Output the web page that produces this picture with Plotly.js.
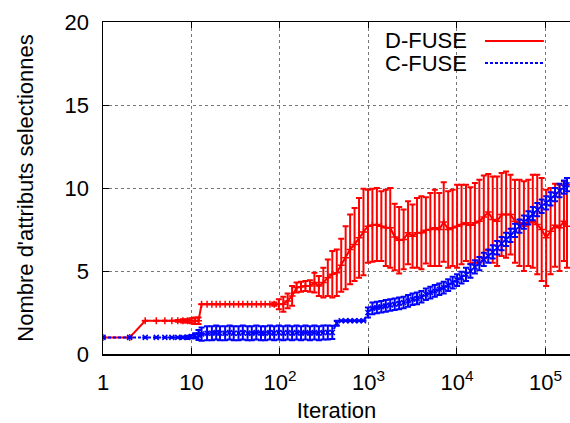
<!DOCTYPE html>
<html>
<head>
<meta charset="utf-8">
<script src="https://cdn.plot.ly/plotly-3.0.1.min.js"></script>
<style>html,body{margin:0;padding:0;background:#fff;}#chart{width:570px;height:423px;}</style>
</head>
<body>
<div id="chart"></div>
<script>
// Iteration values (x)
var iterations = [1,2,3,4,5,6,7,8,9,10,11,12,13,15,17,19,21,24,27,30,34,38,43,48,54,61,68,77,86,97,
  109,122,137,154,173,194,218,245,275,309,347,390,438,492,552,620,696,782,878,
  986,1107,1244,1397,1568,1761,1978,2221,2494,2800,3145,3531,3965,4452,5000,5614,6304,7079,7949,8926,
  10023,11254,12637,14190,15933,17891,20089,22557,25329,28441,31936,35860,40266,45213,50768,57005,64008,71872,80702,90617,
  101750,114251,128287,144048,161745,175000];

// D-FUSE mean and error
var dfuseMean = [1,1,2,2,2,2,2,2,2,2,2,2,3,3,3,3,3,3,3,3,3,3,3,3,3,3,3,3,3,3,
  3.0,3.2,3.5,4.0,4.05,4.1,4.1,4.3,4.1,4.3,4.6,4.8,4.9,5.35,5.8,6.3,6.6,7.0,7.35,
  7.7,7.75,7.8,7.7,7.6,7.6,7.05,6.85,6.9,7.3,7.1,7.3,7.3,7.45,7.5,7.6,7.5,7.95,7.5,7.6,
  7.7,7.8,7.9,7.75,7.9,8.0,8.25,8.55,8.1,8.0,8.4,8.4,8.4,8.0,7.9,7.7,7.9,8.0,7.8,7.5,
  7.0,7.4,7.75,7.6,8.0,7.7];
var dfuseErr = [0,0,0,0,0,0,0.05,0.1,0.1,0.15,0.2,0.2,0,0,0,0,0,0,0,0,0,0,0,0,0,0,0,0,0.1,0.3,
  0.45,0.45,0.6,0.3,0.3,0.3,0.35,0.6,0.6,0.9,1.1,1.4,1.4,1.6,1.9,2.1,2.2,2.4,2.6,
  2.2,2.2,2.2,2.1,2.3,2.4,2.0,2.0,1.8,1.9,1.9,2.1,2.2,2.0,2.2,2.3,2.2,2.4,2.3,2.3,
  2.5,2.4,2.3,2.3,2.4,2.5,2.5,2.3,2.6,2.7,2.5,2.6,2.4,2.5,2.6,2.7,2.6,2.8,3.0,3.1,
  2.9,2.6,2.5,2.6,2.4,2.5];

// C-FUSE mean and error
var cfuseMean = [1,1,1,1,1,1,1,1,1,1.05,1.1,1.15,1.2,1.25,1.25,1.3,1.25,1.25,1.3,1.25,1.25,1.3,1.25,1.25,1.3,1.25,1.25,1.3,1.25,1.3,
  1.25,1.3,1.25,1.3,1.25,1.3,1.25,1.3,1.25,1.3,1.3,1.3,1.85,2,2,2,2,2,2,
  2.5,2.75,2.8,2.85,2.9,2.95,3.0,3.05,3.1,3.2,3.3,3.35,3.45,3.6,3.7,3.8,3.9,4.0,4.15,4.3,
  4.45,4.6,4.8,5.0,5.25,5.45,5.7,5.9,6.15,6.4,6.65,6.9,7.15,7.45,7.7,7.95,8.2,8.45,8.7,8.9,
  9.1,9.35,9.6,9.85,10.05,10.2];
var cfuseErr = [0,0,0,0,0,0,0,0.05,0.1,0.1,0.15,0.3,0.4,0.42,0.42,0.42,0.42,0.42,0.42,0.42,0.42,0.42,0.42,0.42,0.42,0.42,0.42,0.42,0.42,0.42,
  0.42,0.42,0.42,0.42,0.42,0.42,0.42,0.42,0.42,0.42,0.42,0.4,0.15,0,0,0,0,0,0,
  0.3,0.35,0.35,0.35,0.35,0.35,0.35,0.35,0.35,0.35,0.35,0.35,0.35,0.35,0.35,0.35,0.35,0.35,0.35,0.35,
  0.35,0.35,0.4,0.4,0.4,0.4,0.4,0.4,0.4,0.4,0.4,0.4,0.4,0.4,0.4,0.4,0.4,0.4,0.4,0.4,
  0.4,0.4,0.4,0.4,0.4,0.4];

var seriesNames = ['D-FUSE', 'C-FUSE'];
var xTickVals = [1,10,100,1000,10000,100000];
var xTickText = ['1','10','10<sup>2</sup>','10<sup>3</sup>','10<sup>4</sup>','10<sup>5</sup>'];
var yTickVals = [0,5,10,15,20];

var FONT = '"Liberation Sans", Arial, Helvetica, sans-serif';
var RED = '#ff0000', BLUE = '#0000ff';

var traces = [
  {
    x: iterations, y: dfuseMean, name: seriesNames[0], type: 'scatter', mode: 'lines+markers',
    line: {color: RED, width: 2},
    marker: {symbol: 'cross-thin', size: 5, color: RED, line: {color: RED, width: 1.5}},
    error_y: {type: 'data', array: dfuseErr, visible: true, color: RED, thickness: 2, width: 3},
    showlegend: false
  },
  {
    x: iterations, y: cfuseMean, name: seriesNames[1], type: 'scatter', mode: 'lines+markers',
    line: {color: BLUE, width: 2, dash: '3px,2px'},
    marker: {symbol: 'x-thin', size: 5, color: BLUE, line: {color: BLUE, width: 1.5}},
    error_y: {type: 'data', array: cfuseErr, visible: true, color: BLUE, thickness: 2, width: 3},
    showlegend: false
  }
];

var layout = {
  width: 570, height: 423,
  margin: {l: 103, r: 0, t: 22, b: 69},
  paper_bgcolor: '#ffffff', plot_bgcolor: '#ffffff',
  font: {family: FONT, size: 22, color: '#000'},
  xaxis: {
    type: 'log', range: [0, 5.277],
    tickmode: 'array', tickvals: xTickVals, ticktext: xTickText,
    ticks: 'inside', ticklen: 6, tickwidth: 1, tickcolor: '#000',
    showline: true, linecolor: '#000', linewidth: 1.5, mirror: 'ticks',
    showgrid: true, gridcolor: '#777', griddash: 'dot', gridwidth: 1,
    zeroline: false,
    tickfont: {family: FONT, size: 22, color: '#000'},
    ticklabelstandoff: 8,
    title: {text: 'Iteration', font: {family: FONT, size: 22, color: '#000'}, standoff: 8}
  },
  yaxis: {
    range: [0, 20],
    tickmode: 'array', tickvals: yTickVals,
    ticks: 'inside', ticklen: 6, tickwidth: 1, tickcolor: '#000',
    showline: true, linecolor: '#000', linewidth: 1.5, mirror: false,
    showgrid: true, gridcolor: '#777', griddash: 'dot', gridwidth: 1,
    zeroline: false,
    tickfont: {family: FONT, size: 22, color: '#000'},
    ticklabelstandoff: 8,
    title: {text: "Nombre d'attributs selectionnes", font: {family: FONT, size: 22, color: '#000'}, standoff: 25}
  },
  annotations: [
    {xref: 'paper', yref: 'paper', x: 0.7837, y: 0.9428, xanchor: 'right', yanchor: 'middle',
     text: seriesNames[0], showarrow: false, font: {family: FONT, size: 22, color: '#000'}},
    {xref: 'paper', yref: 'paper', x: 0.7837, y: 0.8765, xanchor: 'right', yanchor: 'middle',
     text: seriesNames[1], showarrow: false, font: {family: FONT, size: 22, color: '#000'}}
  ],
  shapes: [
    {type: 'line', xref: 'paper', yref: 'paper', x0: 0.818, x1: 0.944, y0: 0.9428, y1: 0.9428,
     line: {color: RED, width: 2}},
    {type: 'line', xref: 'paper', yref: 'paper', x0: 0.818, x1: 0.944, y0: 0.8765, y1: 0.8765,
     line: {color: BLUE, width: 2, dash: '3px,2px'}}
  ]
};

Plotly.newPlot('chart', traces, layout, {staticPlot: true, displayModeBar: false});
</script>
</body>
</html>
